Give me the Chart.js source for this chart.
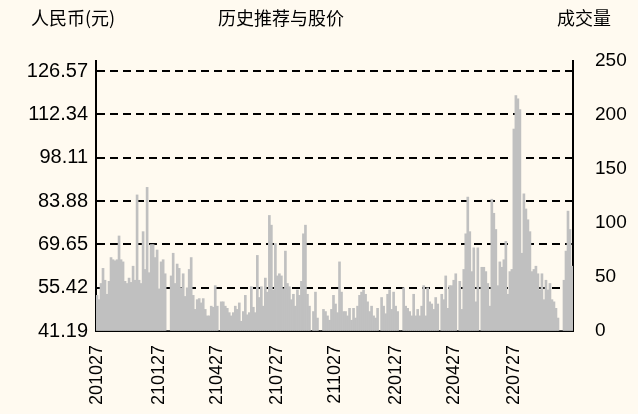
<!DOCTYPE html>
<html>
<head>
<meta charset="utf-8">
<script src="https://cdn.jsdelivr.net/npm/chart.js"></script>
<style>
  html, body { margin: 0; padding: 0; background: #FFFAF0; }
  #wrap { width: 638px; height: 414px; }
</style>
</head>
<body>
<div id="wrap"><canvas id="myChart" width="638" height="414"></canvas></div>
<script>
// tick labels on the x axis and where they sit
var dateLabels = ['201027', '210127', '210427', '210727', '211027', '220127', '220427', '220727'];
var dateIndex = [0, 31, 60, 90, 119, 149, 178, 208];

// left axis ticks (price, yuan)
var priceTicks = [41.19, 55.42, 69.65, 83.88, 98.11, 112.34, 126.57];

// volume bars
var volume = [
  33, 29, 44, 58, 47, 34, 46, 68, 66, 65,
  66, 88, 66, 64, 46, 44, 49, 45, 60, 47,
  126, 47, 44, 92, 57, 133, 54, 80, 80, 68,
  75, 39, 64, 66, 53, 0, 0, 51, 72, 44,
  62, 58, 40, 53, 32, 40, 57, 68, 33, 20,
  29, 30, 26, 30, 20, 14, 14, 23, 22, 42,
  23, 0, 27, 27, 23, 21, 17, 14, 17, 23,
  20, 26, 9, 18, 33, 15, 17, 41, 22, 17,
  70, 31, 41, 23, 49, 36, 107, 98, 38, 81,
  51, 53, 51, 39, 74, 44, 41, 29, 34, 23,
  38, 33, 46, 90, 98, 34, 23, 0, 18, 36,
  12, 0, 0, 20, 18, 14, 10, 20, 33, 25,
  17, 64, 36, 18, 18, 14, 21, 10, 21, 12,
  23, 33, 36, 38, 34, 27, 18, 23, 14, 12,
  21, 0, 31, 23, 16, 34, 38, 20, 36, 23,
  18, 0, 0, 40, 23, 21, 18, 14, 34, 14,
  20, 14, 23, 42, 14, 40, 27, 25, 20, 31,
  25, 0, 34, 29, 51, 21, 42, 42, 47, 53,
  0, 46, 20, 57, 90, 124, 92, 55, 77, 27,
  77, 0, 59, 59, 55, 44, 23, 122, 109, 94,
  42, 64, 59, 66, 83, 34, 55, 57, 187, 218,
  215, 205, 72, 127, 113, 103, 92, 55, 57, 60,
  53, 38, 53, 29, 47, 38, 44, 29, 27, 21,
  12, 0, 0, 47, 74, 111, 94, 60
];

var labels = volume.map(function (v, i) {
  var k = dateIndex.indexOf(i);
  return k >= 0 ? dateLabels[k] : '';
});

var fam = "'Liberation Sans', Arial, sans-serif";
var cjkFont = "18px 'Noto Sans CJK SC', sans-serif";

// headings above the plot
var headings = {
  id: 'headings',
  afterDraw: function (chart) {
    var ctx = chart.ctx;
    ctx.save();
    ctx.fillStyle = '#000';
    ctx.font = cjkFont;
    ctx.textAlign = 'center';
    ctx.textBaseline = 'middle';
    ctx.fillText('人民币(元)', 73, 18);
    ctx.fillText('历史推荐与股价', 281, 18);
    ctx.fillText('成交量', 584, 18);
    ctx.restore();
  }
};

var config = {
  type: 'bar',
  data: {
    labels: labels,
    datasets: [{
      label: '成交量',
      data: volume,
      yAxisID: 'y1',
      backgroundColor: '#C0C0C0',
      borderWidth: 0,
      barPercentage: 1,
      categoryPercentage: 1
    }]
  },
  options: {
    responsive: false,
    animation: false,
    devicePixelRatio: 1,
    layout: { padding: { top: 61, left: 0, right: 0, bottom: 0 } },
    plugins: {
      legend: { display: false },
      tooltip: { enabled: false }
    },
    scales: {
      x: {
        grid: { display: false },
        border: { color: '#000', width: 2 },
        ticks: {
          autoSkip: false,
          minRotation: 90,
          maxRotation: 90,
          padding: 6,
          color: '#000',
          font: { family: fam, size: 18 }
        },
        afterFit: function (scale) { scale.height = 83; }
      },
      y: {
        position: 'left',
        min: 41.19,
        max: 129.86,
        afterBuildTicks: function (scale) {
          scale.ticks = priceTicks.map(function (v) { return { value: v }; });
        },
        ticks: {
          color: '#000',
          font: { family: fam, size: 20 },
          padding: 8,
          callback: function (v) { return Number(v).toFixed(2); }
        },
        grid: {
          color: '#000',
          lineWidth: 2,
          drawTicks: false
        },
        border: { color: '#000', width: 2, dash: [8, 5] },
        afterFit: function (scale) { scale.width = 96; }
      },
      y1: {
        position: 'right',
        min: 0,
        max: 250,
        ticks: {
          stepSize: 50,
          color: '#000',
          font: { family: fam, size: 19 },
          padding: 22
        },
        grid: { drawOnChartArea: false, drawTicks: false },
        border: { color: '#000', width: 2 },
        afterFit: function (scale) { scale.width = 65; }
      }
    }
  },
  plugins: [headings]
};

document.addEventListener('DOMContentLoaded', function () {
  new Chart(document.getElementById('myChart'), config);
});
</script>
</body>
</html>
